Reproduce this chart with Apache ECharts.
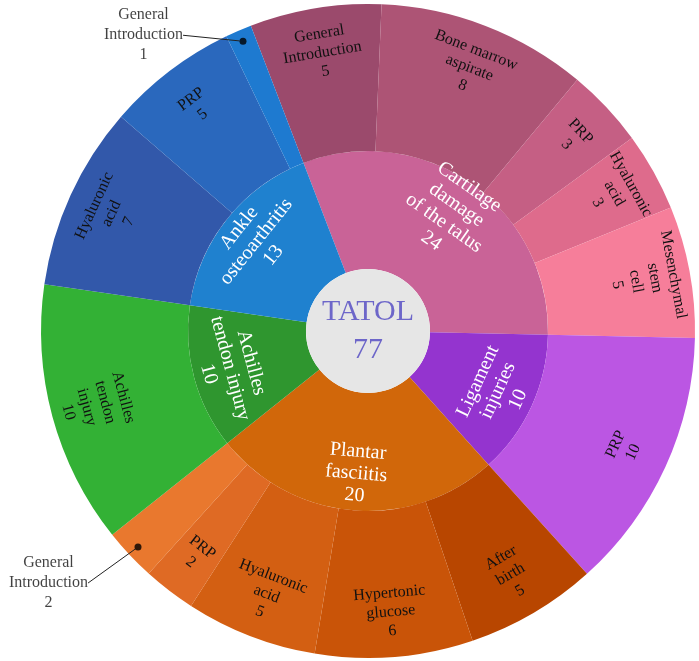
<!DOCTYPE html>
<html>
<head>
<meta charset="utf-8">
<title>TATOL 77</title>
<script src="https://cdn.jsdelivr.net/npm/echarts@6/dist/echarts.min.js"></script>
<style>
    html, body { margin: 0; padding: 0; background: #fff; }
    #main { width: 699px; height: 661px; }
</style>
</head>
<body>
<div id="main"></div>
<script>
    // inner ring
    const groupNames = ['Cartilage\ndamage\nof the talus', 'Ligament\ninjuries', 'Plantar\nfasciitis', 'Achilles\ntendon injury', 'Ankle\nosteoarthritis'];
    const groupValues = [24, 10, 20, 10, 13];
    // outer ring (one list per group, clockwise)
    const leafNames = [
        ['General\nIntroduction', 'Bone marrow\naspirate', 'PRP', 'Hyaluronic\nacid', 'Mesenchymal\nstem\ncell'],
        ['PRP'],
        ['After\nbirth', 'Hypertonic\nglucose', 'Hyaluronic\nacid', 'PRP', 'General\nIntroduction'],
        ['Achilles\ntendon\ninjury'],
        ['Hyaluronic\nacid', 'PRP', 'General\nIntroduction']
    ];
    const leafValues = [[5, 8, 3, 3, 5], [10], [5, 6, 5, 2, 2], [10], [7, 5, 1]];
    const centerTitle = 'TATOL';
    // leaves whose label sits outside with a leader line: [group, leaf]
    const calloutLeaves = [[2, 4], [4, 2]];

    // colours
    const groupColors = ['#c96397', '#9434cf', '#d1670a', '#2f962f', '#1f81cf'];
    const leafColors = [
        ['#9b4a6c', '#ad5475', '#c55f84', '#de6b8c', '#f67e9a'],
        ['#bb56e3'],
        ['#b84600', '#c95408', '#d35f12', '#df6a24', '#e9782e'],
        ['#33b135'],
        ['#3258aa', '#2a68bd', '#1e7ad0']
    ];
    const calloutOffsets = [[-80, 36], [-90, -6]];

    const CX = 368, CY = 331, R0 = 62, R1 = 180, R2 = 327, START = 111;
    const FONT = "'Liberation Serif', 'Times New Roman', serif";
    const total = groupValues.reduce((a, b) => a + b, 0);

    const midAngle = (from, v) => START - (from + v / 2) / total * 360;
    // tangential text: empty lines on the inner side push the label outward
    const shifted = (deg, k) => Math.sin(deg * Math.PI / 180) > 0
        ? '{b}\n{c}' + '\n'.repeat(k)
        : '\n'.repeat(k) + '{b}\n{c}';

    let cum = 0;
    const callouts = [];
    const sunData = groupNames.map((g, gi) => {
        const gStart = cum;
        const children = leafValues[gi].map((v, li) => {
            const item = {
                name: leafNames[gi][li],
                value: v,
                itemStyle: { color: leafColors[gi][li] },
                label: { formatter: shifted(midAngle(cum, v), 3) }
            };
            if (calloutLeaves.some(c => c[0] === gi && c[1] === li)) {
                item.label = { show: false };
                callouts.push({ name: leafNames[gi][li], value: [0.965, cum + v / 2], count: v });
            }
            cum += v;
            return item;
        });
        return {
            name: g,
            value: groupValues[gi],
            itemStyle: { color: groupColors[gi] },
            label: { formatter: shifted(midAngle(gStart, groupValues[gi]), 2) },
            children: children
        };
    });

    const myChart = echarts.init(document.getElementById('main'));
    myChart.setOption({
        backgroundColor: '#fff',
        animation: false,
        polar: { center: [CX, CY], radius: R2 },
        angleAxis: { type: 'value', min: 0, max: total, startAngle: START, clockwise: true, show: false },
        radiusAxis: { type: 'value', min: 0, max: 1, show: false },
        series: [{
            type: 'sunburst',
            center: [CX, CY],
            radius: [R0, R2],
            startAngle: START,
            sort: null,
            nodeClick: false,
            silent: true,
            itemStyle: { borderWidth: 0 },
            label: { rotate: 'tangential', formatter: '{b}\n{c}', fontFamily: FONT },
            levels: [{}, {
                r0: R0, r: R1,
                label: { color: '#fff', fontSize: 20, lineHeight: 22 }
            }, {
                r0: R1, r: R2,
                label: { color: '#111', fontSize: 16, lineHeight: 19 }
            }],
            data: sunData
        }, {
            type: 'pie',
            center: [CX, CY],
            radius: [0, R0],
            silent: true,
            itemStyle: { color: '#e6e6e6' },
            label: {
                position: 'center', formatter: '{b}\n{c}', color: '#6d66c9',
                fontFamily: FONT, fontSize: 30, lineHeight: 38
            },
            data: [{ name: centerTitle, value: total }]
        }, {
            type: 'scatter',
            coordinateSystem: 'polar',
            symbolSize: 7,
            silent: true,
            itemStyle: { color: '#000' },
            label: {
                show: true, position: 'left', distance: 6, align: 'center', verticalAlign: 'middle',
                formatter: p => p.name + '\n' + p.data.count,
                color: '#111', fontFamily: FONT, fontSize: 16, lineHeight: 20
            },
            labelLayout: p => ({ dx: calloutOffsets[p.dataIndex][0], dy: calloutOffsets[p.dataIndex][1] }),
            labelLine: { show: true, lineStyle: { color: '#222', width: 1 } },
            data: callouts
        }]
    });
</script>
</body>
</html>
